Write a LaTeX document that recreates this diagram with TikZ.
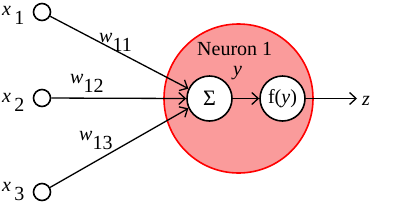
\documentclass[tikz,border=0pt]{standalone}
\usepackage{fontspec}
\setmainfont{Liberation Serif}
\usepackage{tikz}
\usetikzlibrary{arrows.meta, positioning}

\definecolor{cellfill}{RGB}{250,155,155}
\newcommand{\idx}[2]{\textit{#1}\raisebox{-9pt}{#2}}

\begin{document}
\begin{tikzpicture}[
  x=1pt, y=-1pt,
  txt/.style={inner sep=0pt, anchor=base west, font=\fontsize{20}{24}\selectfont},
  inpnode/.style={circle, draw=black, line width=1.6pt, fill=white,
             minimum size=17pt, inner sep=0pt},
  cellnode/.style={circle, draw=red, line width=1.6pt, fill=cellfill,
             minimum size=149pt, inner sep=0pt},
  unitnode/.style={circle, draw=black, line width=1.6pt, fill=white,
             minimum size=45pt, inner sep=0pt, font=\fontsize{20}{24}\selectfont},
  arrow/.style={-{Straight Barb[length=6.5pt, width=12pt, line width=1.3pt]}, line width=1.3pt}
]
\useasboundingbox (0,0) rectangle (398,215);

\node[cellnode] (cell) at (238.5,98.5) {};
\node[unitnode] (sum) at (209.5,98.5) {\fontsize{22}{24}\selectfont Σ};
\node[unitnode] (act) at (282.5,98.5) {f(\textit{y})};

\node[inpnode] (in1) at (42,12) {};
\node[inpnode] (in2) at (42,98) {};
\node[inpnode] (in3) at (42,192) {};

\node[txt] (lx1) at (2,15) {\idx{x}{\,1}};
\node[txt] (lx2) at (2,102) {\idx{x}{\,2}};
\node[txt] (lx3) at (2,191) {\idx{x}{\,3}};

\node[txt] (lw11) at (99,42) {\idx{w}{11}};
\node[txt] (lw12) at (70,83) {\idx{w}{12}};
\node[txt] (lw13) at (79,140) {\idx{w}{13}};

\node[txt] (title) at (197,55) {Neuron 1};
\node[txt] (ly) at (233,75) {\textit{y}};
\node[txt] (lz) at (362,105) {\textit{z}};
\coordinate (out) at (357,98.5);

\draw[arrow] (in1) -- (sum.155);
\draw[arrow] (in2) -- (sum.west);
\draw[arrow] (in3) -- (sum.205);
\draw[arrow] (sum) -- (act);
\draw[arrow] (act) -- (out);

\end{tikzpicture}
\end{document}
